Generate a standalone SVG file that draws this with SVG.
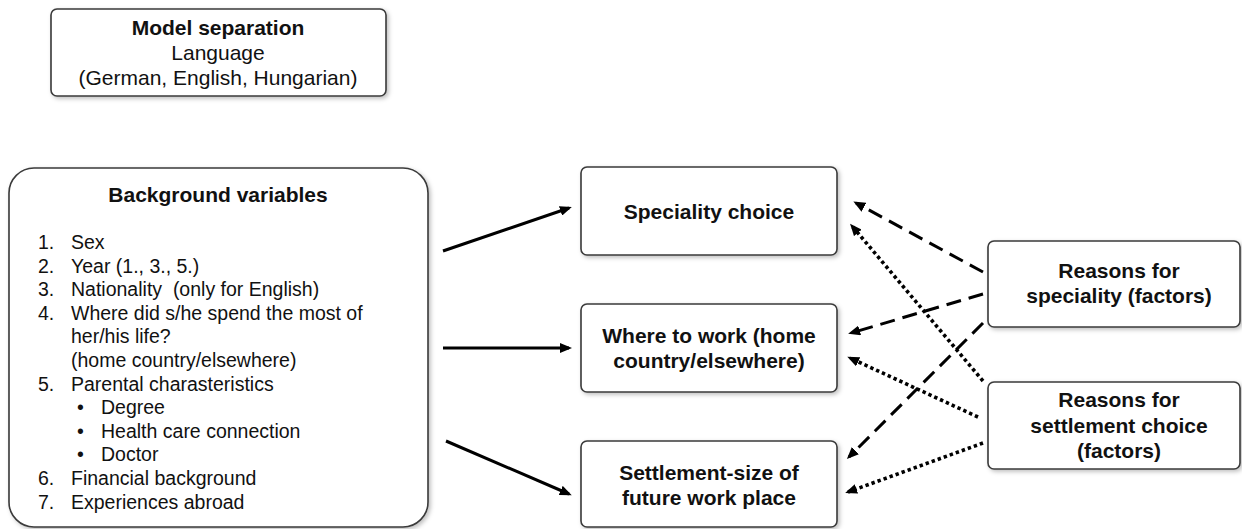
<svg xmlns="http://www.w3.org/2000/svg" width="1242" height="529" viewBox="0 0 1242 529">
  <style>
    .box { fill: #ffffff; stroke: #3a3a3a; stroke-width: 1.6; filter: url(#shadow); }
    .t { font-family: "Liberation Sans", Arial, sans-serif; fill: #111111; }
    .title { font-size: 21px; font-weight: bold; text-anchor: middle; }
    .sub { font-size: 21px; text-anchor: middle; }
    .node { font-size: 21px; font-weight: bold; text-anchor: middle; }
    .item { font-size: 19.5px; }
    .link { fill: none; stroke: #000000; stroke-width: 3; }
    .dash { stroke-dasharray: 15 8; }
    .dot { stroke-width: 3.6; stroke-dasharray: 3.4 3; }
  </style>
  <defs>
    <filter id="shadow" x="-10%" y="-10%" width="120%" height="130%">
      <feDropShadow dx="2" dy="2" stdDeviation="2" flood-color="#000000" flood-opacity="0.25"/>
    </filter>
    <marker id="head" viewBox="0 0 12 10" refX="9" refY="5" markerWidth="12" markerHeight="10" markerUnits="userSpaceOnUse" orient="auto">
      <path d="M0,0 L12,5 L0,10 z" fill="#000000"/>
    </marker>
  </defs>

  <!-- Model separation -->
  <g id="model-separation">
    <rect class="box" x="51" y="9" width="335" height="87" rx="6"/>
    <text class="t title" x="218" y="35">Model separation</text>
    <text class="t sub" x="218" y="60">Language</text>
    <text class="t sub" x="218" y="85">(German, English, Hungarian)</text>
  </g>

  <!-- Background variables -->
  <g id="background-variables">
    <rect class="box" x="9" y="168" width="419" height="359" rx="25"/>
    <text class="t title" x="218" y="202">Background variables</text>
    <g class="t item">
      <text x="38" y="249">1.</text><text x="71" y="249">Sex</text>
      <text x="38" y="273">2.</text><text x="71" y="273">Year (1., 3., 5.)</text>
      <text x="38" y="296">3.</text><text x="71" y="296">Nationality&#160; (only for English)</text>
      <text x="38" y="320">4.</text><text x="71" y="320">Where did s/he spend the most of</text>
      <text x="71" y="343">her/his life?</text>
      <text x="71" y="367">(home country/elsewhere)</text>
      <text x="38" y="391">5.</text><text x="71" y="391">Parental charasteristics</text>
      <text x="77" y="414">•</text><text x="101" y="414">Degree</text>
      <text x="77" y="438">•</text><text x="101" y="438">Health care connection</text>
      <text x="77" y="461">•</text><text x="101" y="461">Doctor</text>
      <text x="38" y="485">6.</text><text x="71" y="485">Financial background</text>
      <text x="38" y="509">7.</text><text x="71" y="509">Experiences abroad</text>
    </g>
  </g>

  <!-- Outcome nodes -->
  <g id="speciality-choice">
    <rect class="box" x="581" y="167" width="256" height="88" rx="6"/>
    <text class="t node" x="709" y="219">Speciality choice</text>
  </g>
  <g id="where-to-work">
    <rect class="box" x="581" y="304" width="256" height="88" rx="6"/>
    <text class="t node" x="709" y="343">Where to work (home</text>
    <text class="t node" x="709" y="368">country/elsewhere)</text>
  </g>
  <g id="settlement-size">
    <rect class="box" x="581" y="441" width="256" height="86" rx="6"/>
    <text class="t node" x="709" y="480">Settlement-size of</text>
    <text class="t node" x="709" y="505">future work place</text>
  </g>

  <!-- Factor nodes -->
  <g id="reasons-speciality">
    <rect class="box" x="988" y="241" width="252" height="86" rx="6"/>
    <text class="t node" x="1119" y="278">Reasons for</text>
    <text class="t node" x="1119" y="303">speciality (factors)</text>
  </g>
  <g id="reasons-settlement">
    <rect class="box" x="988" y="382" width="252" height="87" rx="6"/>
    <text class="t node" x="1119" y="407">Reasons for</text>
    <text class="t node" x="1119" y="433">settlement choice</text>
    <text class="t node" x="1119" y="458">(factors)</text>
  </g>

  <!-- Connectors -->
  <g id="connectors">
    <line class="link" x1="443" y1="251" x2="569" y2="208" marker-end="url(#head)"/>
    <line class="link" x1="443" y1="348" x2="569" y2="348" marker-end="url(#head)"/>
    <line class="link" x1="446" y1="441" x2="569" y2="494" marker-end="url(#head)"/>

    <line class="link dash" x1="983" y1="272" x2="856" y2="203" marker-end="url(#head)"/>
    <line class="link dash" x1="983" y1="294" x2="851" y2="333" marker-end="url(#head)"/>
    <line class="link dash" x1="983" y1="323" x2="849" y2="457" marker-end="url(#head)"/>

    <line class="link dot" x1="983" y1="381" x2="852" y2="226" marker-end="url(#head)"/>
    <line class="link dot" x1="978" y1="417" x2="850" y2="358" marker-end="url(#head)"/>
    <line class="link dot" x1="983" y1="443" x2="848" y2="492" marker-end="url(#head)"/>
  </g>
</svg>
